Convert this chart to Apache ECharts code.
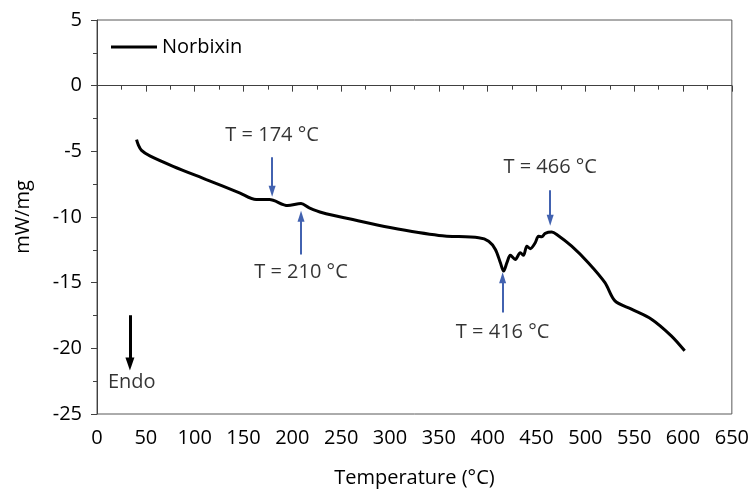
<!DOCTYPE html>
<html><head><meta charset="utf-8">
<script src="https://cdn.jsdelivr.net/npm/echarts@6/dist/echarts.min.js"></script>
<style>html,body{margin:0;padding:0;background:#fff}#c{width:752px;height:493px}</style>
</head><body><div id="c"></div>
<script>
// DSC curve: temperature (°C) and heat flow (mW/mg)
const temperature = [40.5,42.2,45.6,54.1,77.9,111.9,145.9,163,176.5,195.2,208.9,217.3,230.9,258.2,300,350,390.8,401,407.9,413,416.3,419.7,423.2,428.3,433.4,436.7,440.1,443.6,448.7,452,455.4,458.9,465.6,470.7,486,503,520.1,530.3,547.2,567.7,588,601.7];
const heatFlow = [-4.11,-4.49,-4.93,-5.35,-6.14,-7.15,-8.16,-8.67,-8.67,-9.13,-8.97,-9.30,-9.68,-10.14,-10.8,-11.40,-11.58,-11.84,-12.47,-13.48,-14.12,-13.48,-12.92,-13.23,-12.72,-12.92,-12.22,-12.41,-11.96,-11.46,-11.50,-11.25,-11.15,-11.33,-12.22,-13.48,-15.0,-16.39,-17.02,-17.78,-19.05,-20.19];
const seriesName = 'Norbixin';
// annotation arrows: x position, start value, end value (arrow tip)
const annoLabels = ['T = 174 °C','T = 210 °C','T = 416 °C','T = 466 °C'];
const annoX = [179.3, 208.9, 415.3, 464];
const annoFrom = [-5.46, -12.85, -17.28, -7.96];
const annoTo = [-8.04, -9.94, -14.62, -10.24];
const annoLabelY = [-3.75, -14.2, -18.75, -6.2];
const endoX = [33.7], endoFrom = [-17.48], endoTo = [-21.2];
const endoLabel = 'Endo', endoLabelPos = [11.2, -22.6];
const xTicks = {min:0,max:650,interval:50};
const yTicks = {min:-25,max:5,interval:5};

const font = '"Open Sans", sans-serif';
const fs = 20;
const chart = echarts.init(document.getElementById('c'));
const arrows = annoX.map((x,i)=>[{coord:[x,annoFrom[i]]},{coord:[x,annoTo[i]]}]);
const txt = {fontSize:fs,fontFamily:font,color:'#000'};
chart.setOption({
  animation:false,
  grid:{left:97,right:18,top:20,bottom:78,show:true,borderColor:'#595959',borderWidth:1},
  legend:{left:106,top:32,itemWidth:46,itemHeight:3,icon:'rect',itemGap:7,
    textStyle:txt,data:[seriesName]},
  xAxis:{type:'value',min:xTicks.min,max:xTicks.max,interval:xTicks.interval,
    name:'Temperature (°C)',nameLocation:'middle',nameGap:54,
    nameTextStyle:txt,
    axisLine:{lineStyle:{color:'#404040',width:1}},
    axisTick:{length:6,lineStyle:{color:'#404040'}},
    minorTick:{show:true,splitNumber:2,length:4,lineStyle:{color:'#404040'}},
    splitLine:{show:false},
    axisLabel:Object.assign({margin:14},txt)},
  yAxis:{type:'value',min:yTicks.min,max:yTicks.max,interval:yTicks.interval,
    name:'mW/mg',nameLocation:'middle',nameGap:64,
    nameTextStyle:txt,
    axisLine:{show:true,lineStyle:{color:'#404040',width:1}},
    axisTick:{show:true,length:6,lineStyle:{color:'#404040'}},
    minorTick:{show:true,splitNumber:2,length:4,lineStyle:{color:'#404040'}},
    splitLine:{show:false},
    axisLabel:Object.assign({margin:15},txt)},
  series:[
    {name:seriesName,type:'line',data:temperature.map((t,i)=>[t,heatFlow[i]]),
     showSymbol:false,symbol:'none',smooth:0.3,color:'#000',lineStyle:{color:'#000',width:3},
     markLine:{silent:true,symbol:['none','triangle'],symbolSize:[7,11],
       lineStyle:{color:'#4262b0',width:2,type:'solid'},label:{show:false},data:arrows}},
    {type:'line',data:[],markLine:{silent:true,symbol:['none','triangle'],symbolSize:[9,13],
       lineStyle:{color:'#000',width:3,type:'solid'},label:{show:false},
       data:[[{coord:[endoX[0],endoFrom[0]]},{coord:[endoX[0],endoTo[0]]}]]}},
    {type:'scatter',symbolSize:0,silent:true,
     data:annoLabels.map((l,i)=>({value:[annoX[i],annoLabelY[i]],name:l})),
     label:Object.assign({show:true,position:'inside',formatter:p=>p.name},txt)},
    {type:'scatter',symbolSize:0,silent:true,data:[{value:endoLabelPos,name:endoLabel}],
     label:Object.assign({show:true,position:'right',distance:0,formatter:p=>p.name},txt)}
  ]
});
</script></body></html>
